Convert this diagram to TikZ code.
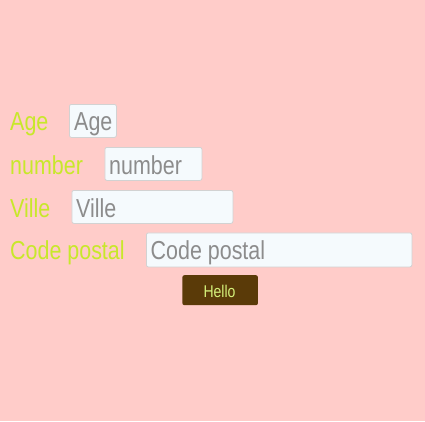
\documentclass[tikz,border=0pt]{standalone}
\usepackage{fontspec}
\setmainfont{Liberation Sans}
\newfontfamily\narrowfont[FakeStretch=0.825]{Liberation Sans}
\definecolor{bg}{HTML}{FFCCC9}
\definecolor{lbl}{HTML}{C8E82A}
\definecolor{fieldfill}{HTML}{F5FAFD}
\definecolor{fieldline}{HTML}{D2D2D2}
\definecolor{ph}{HTML}{8C8C8C}
\definecolor{btn}{HTML}{5A3A08}
\definecolor{btntxt}{HTML}{D4F07A}
\tikzset{
  lab/.style={anchor=base west, inner sep=0pt, text=lbl, font=\narrowfont\fontsize{26}{30}\selectfont},
  field/.style={anchor=north west, draw=fieldline, fill=fieldfill, line width=0.8pt, rounded corners=2pt, inner sep=0pt},
  holder/.style={anchor=base west, inner sep=0pt, text=ph, font=\narrowfont\fontsize{26}{30}\selectfont},
  button/.style={anchor=north west, fill=btn, rounded corners=2pt, inner sep=0pt},
  btnlabel/.style={anchor=base, inner sep=0pt, text=btntxt, font=\narrowfont\fontsize{17}{20}\selectfont}
}
\begin{document}
\begin{tikzpicture}[x=1pt,y=-1pt]
\fill[bg] (0,0) rectangle (425,421);
\useasboundingbox (0,0) rectangle (425,421);
% Age
\node[lab] (agel) at (10,130.5) {Age};
\node[field, minimum width=47, minimum height=33] (ageb) at (69,104) {};
\node[holder] (agep) at (74,130.5) {Age};
% number
\node[lab] (numl) at (10,174) {number};
\node[field, minimum width=97, minimum height=33] (numb) at (104.5,147) {};
\node[holder] (nump) at (109,174) {number};
% Ville
\node[lab] (villel) at (10,217.5) {Ville};
\node[field, minimum width=161, minimum height=33] (villeb) at (71.5,190) {};
\node[holder] (villep) at (76,217.5) {Ville};
% Code postal
\node[lab] (cpl) at (10,259.5) {Code postal};
\node[field, minimum width=265.5, minimum height=34] (cpb) at (146,232.5) {};
\node[holder] (cpp) at (150.5,259.5) {Code postal};
% Button
\node[button, minimum width=75.5, minimum height=30] (btnb) at (182.2,275) {};
\node[btnlabel] (btnt) at (219.5,297) {Hello};
\end{tikzpicture}
\end{document}
